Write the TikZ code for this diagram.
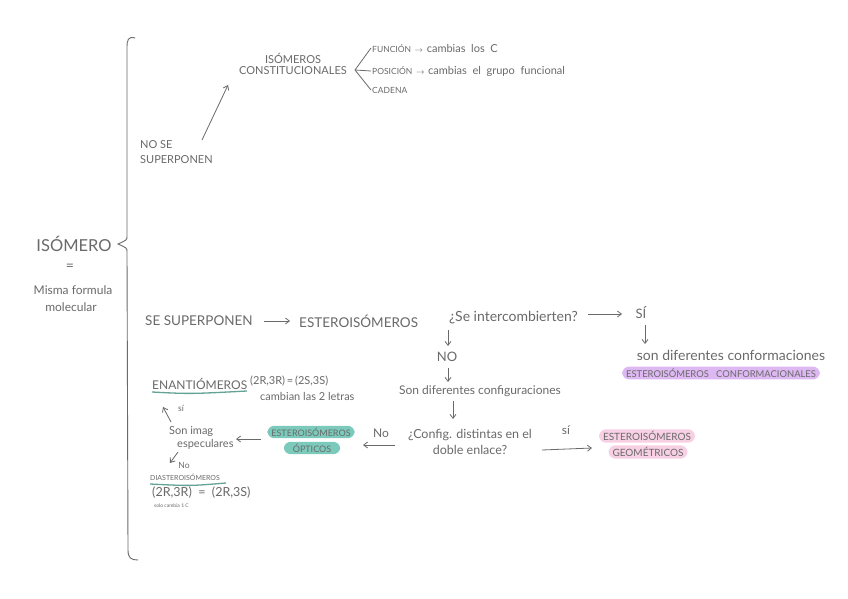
\documentclass[tikz,border=0pt]{standalone}
\usepackage{fontspec}
\setmainfont{Lato}
\usetikzlibrary{arrows.meta}
\definecolor{ink}{HTML}{6A6A6A}
\definecolor{tealhl}{HTML}{7CCABB}
\definecolor{pinkhl}{HTML}{F8D0E4}
\definecolor{purphl}{HTML}{DDB8F2}
\tikzset{
  fs/.style={font=\fontsize{#1}{#1}\selectfont},
  lbl/.style={text=ink, inner sep=1pt},
  arr/.style={draw=ink, line width=0.8pt, -{Straight Barb[length=4pt,width=6pt]}},
  hl/.style={rounded corners=7pt, inner xsep=4pt, inner ysep=2pt, text=ink},
}
\begin{document}
\begin{tikzpicture}[x=1pt,y=-1pt]
\useasboundingbox (0,0) rectangle (848,599);
\fill[white] (0,0) rectangle (848,599);
% brace
\draw[ink, line width=0.9pt, line cap=round]
  (135,38) .. controls (128,36) and (127,40) .. (127,48)
  -- (127,236) .. controls (127,240) .. (118,244)
  .. controls (127,248) .. (127,252)
  -- (128,550) .. controls (128,558) and (131,560) .. (138,560);
% left title
\node[lbl, fs=16.5] (iso) at (74,244) {ISÓMERO};
\node[lbl, fs=14] (eq) at (70,267) {=};
\node[lbl, fs=12] (mis) at (73,290) {Misma formula};
\node[lbl, fs=12] (mol) at (71,307) {molecular};
% no se superponen
\node[lbl, fs=11, align=left, anchor=west] (nose) at (139,152) {NO SE\\[4pt]SUPERPONEN};
\coordinate (nsa) at (202,140);
\coordinate (nsb) at (228,85);
\node[lbl, fs=11, align=center] (const) at (293,64) {ISÓMEROS\\CONSTITUCIONALES};
\draw[arr] (nsa) -- (nsb);
% branches
\node[lbl, fs=8.5, anchor=west] (fun) at (371,48) {FUNCIÓN \,$\rightarrow$\, {\fontsize{11}{11}\selectfont cambias\ \ los\ \ C}};
\node[lbl, fs=8.5, anchor=west] (pos) at (371,71) {POSICIÓN \,$\rightarrow$\, {\fontsize{11}{11}\selectfont cambias\ \ el\ \ grupo\ \ funcional}};
\node[lbl, fs=8.5, anchor=west] (cad) at (371,90) {CADENA};
\coordinate (fork) at (355,70);
\draw[ink, line width=0.8pt] (fun.west) -- (fork) -- (cad.west);
\draw[ink, line width=0.8pt] (fork) -- (pos.west);
% se superponen
\node[lbl, fs=13.5, anchor=west] (sesup) at (144,321) {SE SUPERPONEN};
\node[lbl, fs=13.5, anchor=west] (ester) at (298,321) {ESTEROISÓMEROS};
\draw[arr] ([xshift=10pt]sesup.east) -- ([xshift=-8pt]ester.west);
\node[lbl, fs=14, anchor=west] (inter) at (448,318) {¿Se intercombierten?};
\node[lbl, fs=13] (si1) at (641,313) {SÍ};
\coordinate (a1) at (588,314);
\coordinate (a2) at (622,314);
\draw[arr] (a1) -- (a2);
\node[lbl, fs=14] (conf) at (731,355) {son diferentes conformaciones};
\coordinate (b1) at (645,325);
\coordinate (b2) at (645,344);
\draw[arr] (b1) -- (b2);
\node[hl, fill=purphl, fs=9.4] (ecf) at (721,373) {ESTEROISÓMEROS\ \ \ CONFORMACIONALES};
\node[lbl, fs=13] (no1) at (447,357) {NO};
\coordinate (c1) at (448,330);
\coordinate (c2) at (448,346);
\draw[arr] (c1) -- (c2);
\node[lbl, fs=12] (config) at (480,391) {Son diferentes configuraciones};
\coordinate (d1) at (448,368);
\coordinate (d2) at (448,382);
\draw[arr] (d1) -- (d2);
\node[lbl, fs=12.5, align=center] (dist) at (470,442) {¿Config. distintas en el\\[3pt]doble enlace?};
\coordinate (e1) at (453,401);
\coordinate (e2) at (453,419);
\draw[arr] (e1) -- (e2);
\node[lbl, fs=12] (no2) at (381,433) {No};
\node[lbl, fs=12] (si2) at (566,430) {sí};
% optical
\node[hl, fill=tealhl, fs=9] (opt1) at (311,432) {ESTEROISÓMEROS};
\node[hl, fill=tealhl, fs=9, inner xsep=9pt] (opt2) at (312,448) {ÓPTICOS};
\coordinate (f1) at (395,445);
\coordinate (f2) at (363,445);
\draw[arr] (f1) -- (f2);
% geometric
\node[hl, fill=pinkhl, fs=10] (geo1) at (647,436) {ESTEROISÓMEROS};
\node[hl, fill=pinkhl, fs=10] (geo2) at (648,452) {GEOMÉTRICOS};
\coordinate (g1) at (542,450);
\coordinate (g2) at (592,448);
\draw[arr] (g1) -- (g2);
% mirror images
\node[lbl, fs=11, align=left, anchor=west] (imag) at (168,438) {Son imag\\[2pt]\hspace*{8pt}especulares};
\coordinate (h1) at (261,439);
\coordinate (h2) at (236,439);
\draw[arr] (h1) -- (h2);
\node[lbl, fs=12, anchor=west] (enan) at (151,384) {ENANTIÓMEROS};
\draw[tealhl!80!black, line width=1.3pt] (152,392) .. controls (190,394) .. (247,391);
\node[lbl, fs=11, anchor=west] (eqa) at (249,381) {(2R,3R)\,=\,(2S,3S)};
\node[lbl, fs=11, anchor=west] (camb) at (259,396) {cambian las 2 letras};
\node[lbl, fs=8.5] (si3) at (181,408) {sí};
\coordinate (i1) at (171,422);
\coordinate (i2) at (163,407);
\draw[arr] (i1) -- (i2);
\node[lbl, fs=8.5] (no3) at (184,465) {No};
\coordinate (j1) at (178,452);
\coordinate (j2) at (170,463);
\draw[arr] (j1) -- (j2);
\node[lbl, fs=7, anchor=west] (dia) at (149,477) {DIASTEROISÓMEROS};
\draw[tealhl!80!black, line width=1.3pt] (150,484) .. controls (190,486) .. (226,483);
\node[lbl, fs=12.5, anchor=west] (eqb) at (151,493) {(2R,3R)\ \ =\ \ (2R,3S)};
\node[lbl, fs=5, anchor=west] (solo) at (153,506) {solo cambia 1 C};
\end{tikzpicture}
\end{document}
